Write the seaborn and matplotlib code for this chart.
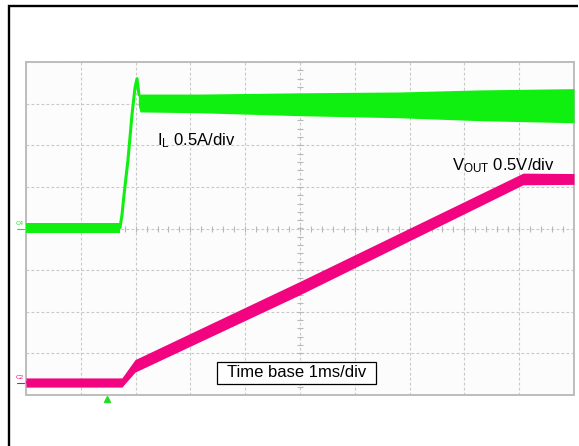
import numpy as np
import pandas as pd
import matplotlib
matplotlib.use("Agg")
import matplotlib.pyplot as plt
from matplotlib.lines import Line2D
from matplotlib.patches import Rectangle
import seaborn as sns

# ---------------- data (time in divisions of 1 ms, amplitude in divisions) -------------
# Inductor current IL (green): flat baseline, fast rise with overshoot, then noisy band
il_base_t = [0.0, 1.71]
il_base_hi = [0.13, 0.13]
il_base_lo = [-0.11, -0.11]

il_rise_t = [1.70, 1.715, 1.752, 1.788, 1.861, 1.934, 1.989, 2.026, 2.062]
il_rise_v = [0.01, 0.02, 0.33, 0.80, 1.65, 2.73, 3.38, 3.60, 3.21]

il_band_t = [2.05, 2.08, 3.175, 5.0, 6.82, 8.28, 10.0]
il_band_hi = [3.20, 3.23, 3.23, 3.26, 3.28, 3.33, 3.36]
il_band_lo = [2.95, 2.80, 2.78, 2.71, 2.66, 2.59, 2.54]

# Output voltage VOUT (magenta): baseline, soft-start ramp, flat top
vo_t = [0.0, 1.75, 1.99, 5.0, 9.07, 10.0]
vo_mid = [-3.70, -3.70, -3.30, -1.43, 1.19, 1.19]
vo_half = [0.11, 0.11, 0.15, 0.16, 0.14, 0.13]

trigger_t = 1.48
ch_labels = ["C4", "C2"]
ch_levels = [0.0, -3.70]
ch_colors = ["#18e818", "#f0047f"]

label_il = r"I$_\mathrm{L}$ 0.5A/div"
label_vo = r"V$_\mathrm{OUT}$ 0.5V/div"
label_tb = "Time base 1ms/div"

GREEN = "#10f010"
PINK = "#f2037f"

# ---------------- figure ----------------
sns.set_theme(style="white")
plt.rcParams["font.family"] = ["Liberation Sans", "DejaVu Sans"]
plt.rcParams["mathtext.fontset"] = "custom"
plt.rcParams["mathtext.rm"] = "Liberation Sans"
plt.rcParams["mathtext.it"] = "Liberation Sans"

W, H = 579, 446
fig = plt.figure(figsize=(W / 100, H / 100), dpi=100)
fig.patch.set_facecolor("white")

x0, x1, y0, y1 = 26, 574, 62, 395
ax = fig.add_axes([x0 / W, 1 - y1 / H, (x1 - x0) / W, (y1 - y0) / H])
ax.set_facecolor("#fcfcfc")
ax.set_xlim(0, 10)
ax.set_ylim(-4, 4)
ax.set_xticks(range(11))
ax.set_yticks(range(-4, 5))
ax.tick_params(length=0, labelbottom=False, labelleft=False)
ax.grid(True, ls=(0, (2.5, 2)), color="#c8c8c8", lw=0.8)
for s in ax.spines.values():
    s.set_color("#bdbdbd")
    s.set_linewidth(1.4)

# minor ticks on the center cross
mx = np.arange(0, 10.001, 0.2)
my = np.arange(-4, 4.001, 0.2)
ax.plot(mx, np.zeros_like(mx), ls="none", marker="|", ms=4, mew=0.8, color="#b8b8b8", zorder=1)
ax.plot(np.full_like(my, 5.0), my, ls="none", marker="_", ms=4, mew=0.8, color="#b8b8b8", zorder=1)

# ---- IL trace ----
ax.fill_between(il_base_t, il_base_lo, il_base_hi, color=GREEN, lw=0, zorder=3)
ax.fill_between(il_band_t, il_band_lo, il_band_hi, color=GREEN, lw=0, zorder=3)
rise = pd.DataFrame({"t": il_rise_t, "v": il_rise_v})
sns.lineplot(data=rise, x="t", y="v", ax=ax, color=GREEN, lw=2.2, sort=False,
             estimator=None, zorder=3)

# ---- VOUT trace ----
vo = pd.DataFrame({"t": vo_t, "mid": vo_mid, "half": vo_half})
ax.fill_between(vo["t"], vo["mid"] - vo["half"], vo["mid"] + vo["half"],
                color=PINK, lw=0, zorder=3)
sns.lineplot(data=vo, x="t", y="mid", ax=ax, color=PINK, lw=1.5, estimator=None, zorder=3)

ax.set_xlabel("")
ax.set_ylabel("")

# channel markers
for lab, lev, col in zip(ch_labels, ch_levels, ch_colors):
    ax.text(-0.12, lev + 0.05, lab, fontsize=4.5, color=col, ha="center", va="bottom",
            clip_on=False)
    ax.plot([-0.16, 0.0], [lev, lev], color=col, lw=0.8, clip_on=False)

# trigger marker
ax.plot([trigger_t], [-4.09], marker="^", ms=4.5, color="#22dd22", clip_on=False,
        ls="none", zorder=5)

# annotations
ax.text(2.39, 2.01, label_il, fontsize=12, color="black", ha="left", va="baseline")
ax.text(7.77, 1.41, label_vo, fontsize=12, color="black", ha="left", va="baseline")
ax.add_patch(Rectangle((3.485, -3.735), 2.90, 0.53, fc="white", ec="black", lw=0.9, zorder=6))
ax.text(4.935, -3.47, label_tb, fontsize=12, color="black", ha="center", va="center",
        zorder=7)

# outer document frame: left rule and top rule
ty = 1 - 6 / H
fig.add_artist(Line2D([9 / W, 9 / W, 0.998], [-0.02, ty, ty], transform=fig.transFigure,
                      color="black", lw=1.7, solid_capstyle="butt",
                      solid_joinstyle="miter"))

fig.savefig("out.png", dpi=100, facecolor="white")
